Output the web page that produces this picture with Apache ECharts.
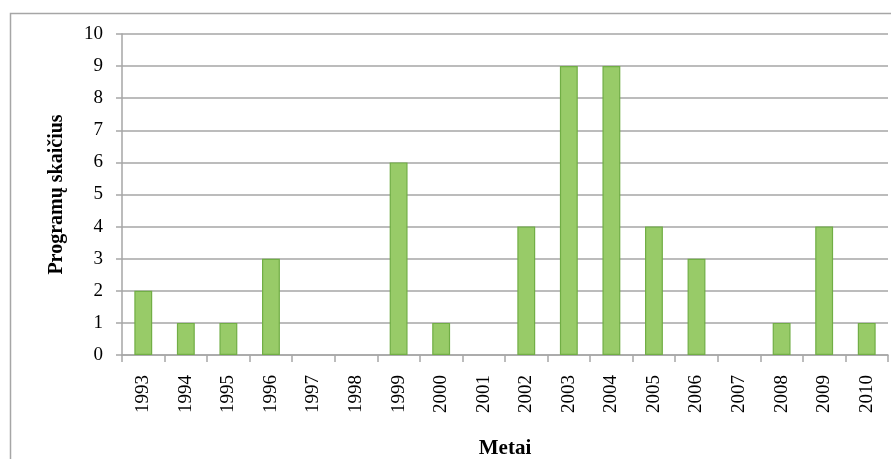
<!DOCTYPE html>
<html>
<head>
<meta charset="utf-8">
<script src="https://cdn.jsdelivr.net/npm/echarts@6/dist/echarts.min.js"></script>
<style>
html,body{margin:0;padding:0;background:#fff;}
#c{width:891px;height:459px;}
</style>
</head>
<body>
<div id="c"></div>
<script>
const years = ['1993','1994','1995','1996','1997','1998','1999','2000','2001','2002','2003','2004','2005','2006','2007','2008','2009','2010'];
const programs = [2,1,1,3,0,0,6,1,0,4,9,9,4,3,0,1,4,1];
const yTitle = 'Programų skaičius';
const xTitle = 'Metai';

const chart = echarts.init(document.getElementById('c'), null, {renderer:'canvas'});
const serif = '"Liberation Serif", "Times New Roman", serif';
const barData = programs.map(v => v === 0 ? {value:v, itemStyle:{borderWidth:0, opacity:0}} : v);
chart.setOption({
  animation:false,
  graphic:[{
    type:'rect', left:8, top:11, shape:{width:900, height:470},
    style:{fill:'none', stroke:'#a6a6a6', lineWidth:1.5}, silent:true, z:-1
  }],
  grid:{left:122, right:3, top:34, bottom:104, containLabel:false, outerBoundsMode:'none'},
  xAxis:{
    type:'category', data:years,
    name:xTitle, nameLocation:'middle', nameGap:83,
    nameTextStyle:{fontFamily:serif, fontWeight:'bold', fontSize:21, color:'#000'},
    axisLine:{lineStyle:{color:'#a6a6a6', width:1.5}},
    axisTick:{show:true, length:7, alignWithLabel:false, lineStyle:{color:'#a6a6a6', width:1.5}},
    axisLabel:{rotate:90, margin:20, fontFamily:serif, fontSize:19, color:'#000', interval:0}
  },
  yAxis:{
    type:'value', min:0, max:10, interval:1,
    name:yTitle, nameLocation:'middle', nameGap:55,
    nameTextStyle:{fontFamily:serif, fontWeight:'bold', fontSize:20, color:'#000'},
    axisLine:{show:true, lineStyle:{color:'#a6a6a6', width:1.5}},
    axisTick:{show:true, length:6, lineStyle:{color:'#a6a6a6', width:1.5}},
    axisLabel:{margin:19, fontFamily:serif, fontSize:19, color:'#000'},
    splitLine:{show:true, lineStyle:{color:'#a6a6a6', width:1.5}}
  },
  series:[{
    type:'bar', data:barData, barWidth:'42%',
    itemStyle:{color:'#98CB68', borderColor:'#71AE45', borderWidth:1.2}
  }]
});
</script>
</body>
</html>
